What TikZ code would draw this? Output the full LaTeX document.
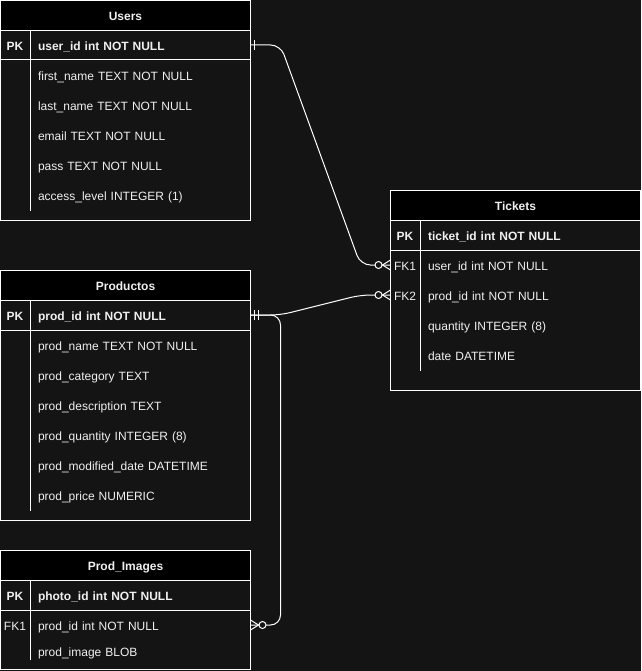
\documentclass[tikz,border=0pt]{standalone}
\usepackage{fontspec}
\setmainfont{Liberation Sans}
\usetikzlibrary{positioning}
\definecolor{fondo}{HTML}{141414}
\definecolor{texto}{HTML}{F0F0F0}
\tikzset{
    %Define style for table headers
    cabecera/.style={
           rectangle,
           draw=white, fill=black,
           text=texto, font=\bfseries,
           text height=10.5pt, text depth=0pt,
           minimum width=250pt, minimum height=30pt,
           inner sep=0pt, outer sep=0pt,
           anchor=north west},
    %Define style for table bodies
    cuerpo/.style={
           rectangle,
           draw=white, fill=fondo,
           minimum width=250pt,
           inner sep=0pt, outer sep=0pt},
    % Define style for fields
    campo/.style={
           text=texto,
           text width=200pt, align=left,
           text height=10.5pt, text depth=0pt,
           minimum height=30pt, inner sep=0pt, outer sep=0pt},
    clave/.style={
           text=texto,
           text height=10.5pt, text depth=0pt,
           minimum width=30pt, minimum height=30pt,
           inner sep=0pt, outer sep=0pt},
    linea/.style={draw=white, line width=1pt},
    % Define connector style
    rel/.style={draw=white, line width=1pt, rounded corners=10pt},
    % Define markers
    muchos/.pic={
           \draw[linea] (0,-5) -- (-8,0) -- (0,5);
           \draw[linea, fill=fondo] (-12,0) circle[radius=3.5pt];},
    uno/.pic={
           \draw[linea] (4,-5) -- (4,5);},
    dosuno/.pic={
           \draw[linea] (4,-5) -- (4,5) (8,-5) -- (8,5);}
}
\begin{document}
\fontsize{12pt}{14pt}\selectfont
\begin{tikzpicture}[x=1pt,y=-1pt]
\fill[fondo] (0,0) rectangle (641,671);
\useasboundingbox (0,0) rectangle (641,671);

 %Users
\node[cabecera] (users) at (0.5,0.5) {Users};
\node[cuerpo, minimum height=190pt, below=0pt of users] (ubody) {};
\node[campo, anchor=west, font=\bfseries] (u1) at (38,45) {user\_id int NOT NULL};
\node[campo, below=0pt of u1] (u2) {first\_name TEXT NOT NULL};
\node[campo, below=0pt of u2] (u3) {last\_name TEXT NOT NULL};
\node[campo, below=0pt of u3] (u4) {email TEXT NOT NULL};
\node[campo, below=0pt of u4] (u5) {pass TEXT NOT NULL};
\node[campo, below=0pt of u5] (u6) {access\_level INTEGER (1)};
\node[clave, left=8pt of u1, font=\bfseries] (ukey1) {PK};
\draw[linea] (ubody.west |- u1.south) -- (ubody.east |- u1.south);
\draw[linea] (ukey1.north east) -- ([yshift=10pt]ubody.south -| ukey1.east);

 %Productos
\node[cabecera] (productos) at (0.5,270.5) {Productos};
\node[cuerpo, minimum height=220pt, below=0pt of productos] (pbody) {};
\node[campo, anchor=west, font=\bfseries] (p1) at (38,315) {prod\_id int NOT NULL};
\node[campo, below=0pt of p1] (p2) {prod\_name TEXT NOT NULL};
\node[campo, below=0pt of p2] (p3) {prod\_category TEXT};
\node[campo, below=0pt of p3] (p4) {prod\_description TEXT};
\node[campo, below=0pt of p4] (p5) {prod\_quantity INTEGER (8)};
\node[campo, below=0pt of p5] (p6) {prod\_modified\_date DATETIME};
\node[campo, below=0pt of p6] (p7) {prod\_price NUMERIC};
\node[clave, left=8pt of p1, font=\bfseries] (pkey1) {PK};
\draw[linea] (pbody.west |- p1.south) -- (pbody.east |- p1.south);
\draw[linea] (pkey1.north east) -- ([yshift=10pt]pbody.south -| pkey1.east);

 %Prod_Images
\node[cabecera] (imagenes) at (0.5,550.5) {Prod\_Images};
\node[cuerpo, minimum height=89pt, below=0pt of imagenes] (ibody) {};
\node[campo, anchor=west, font=\bfseries] (i1) at (38,595) {photo\_id int NOT NULL};
\node[campo, below=0pt of i1] (i2) {prod\_id int NOT NULL};
\node[campo, below=-4pt of i2] (i3) {prod\_image BLOB};
\node[clave, left=8pt of i1, font=\bfseries] (ikey1) {PK};
\node[clave, left=8pt of i2] (ikey2) {FK1};
\draw[linea] (ibody.west |- i1.south) -- (ibody.east |- i1.south);
\draw[linea] (ikey1.north east) -- ([yshift=10pt]ibody.south -| ikey1.east);

 %Tickets
\node[cabecera] (tickets) at (390.5,190.5) {Tickets};
\node[cuerpo, minimum height=170pt, below=0pt of tickets] (tbody) {};
\node[campo, anchor=west, font=\bfseries] (t1) at (428,235) {ticket\_id int NOT NULL};
\node[campo, below=0pt of t1] (t2) {user\_id int NOT NULL};
\node[campo, below=0pt of t2] (t3) {prod\_id int NOT NULL};
\node[campo, below=0pt of t3] (t4) {quantity INTEGER (8)};
\node[campo, below=0pt of t4] (t5) {date DATETIME};
\node[clave, left=8pt of t1, font=\bfseries] (tkey1) {PK};
\node[clave, left=8pt of t2] (tkey2) {FK1};
\node[clave, left=8pt of t3] (tkey3) {FK2};
\draw[linea] (tbody.west |- t1.south) -- (tbody.east |- t1.south);
\draw[linea] (tkey1.north east) -- ([yshift=20pt]tbody.south -| tkey1.east);

 %relations
\draw[rel] (ubody.east |- u1) -- ++(30,0) -- ([xshift=-30pt]tbody.west |- t2) -- (tbody.west |- t2);
\draw[rel] (pbody.east |- p1) -- ++(30,0) -- ([xshift=-30pt]tbody.west |- t3) -- (tbody.west |- t3);
\draw[rel] (pbody.east |- p1) -- ++(30,0) -- ([xshift=30pt]ibody.east |- i2) -- (ibody.east |- i2);
\pic at (ubody.east |- u1) {uno};
\pic at (pbody.east |- p1) {dosuno};
\pic at (tbody.west |- t2) {muchos};
\pic at (tbody.west |- t3) {muchos};
\pic[xscale=-1] at (ibody.east |- i2) {muchos};
\end{tikzpicture}
\end{document}
